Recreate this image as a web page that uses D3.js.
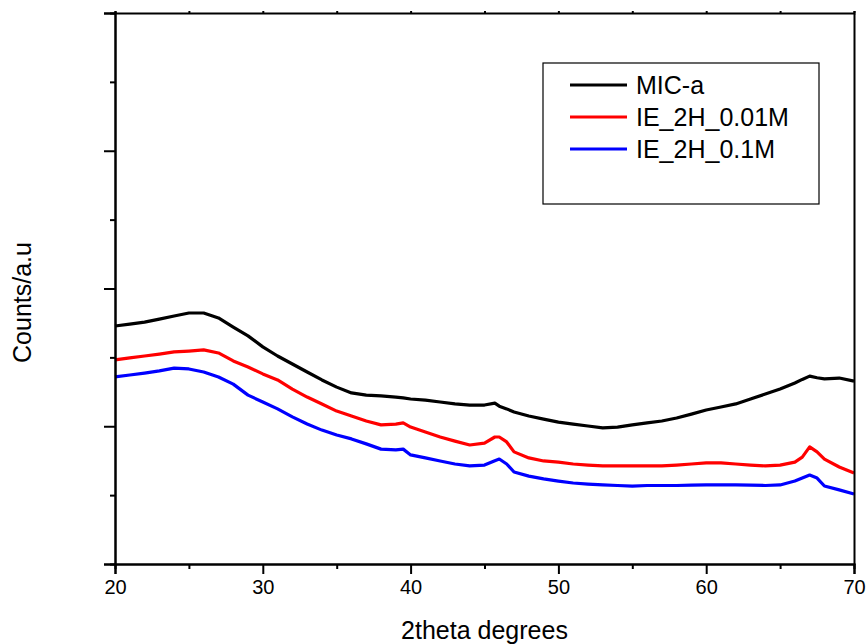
<!DOCTYPE html>
<html>
<head>
<meta charset="utf-8">
<script src="https://cdn.jsdelivr.net/npm/d3@7"></script>
<style>
  body { margin: 0; background: #fff; }
  text { font-family: "Liberation Sans", Arial, sans-serif; fill: #000; }
</style>
</head>
<body>
<script>
// 2theta positions (degrees) and counts
var angles = [20,21,22,23,24,25,26,27,28,29,30,31,32,33,34,35,36,37,38,39,39.5,40,41,42,43,44,45,45.7,46,46.5,47,48,49,50,51,52,53,54,55,56,57,58,59,60,61,62,63,64,65,66,66.5,67,67.5,68,69,70];

var micA = [864,871,878,889,900,911,911,893,860,828,788,755,726,697,668,642,621,613,610,606,603,599,595,588,581,577,577,584,573,563,552,537,526,515,508,501,494,497,505,512,519,530,544,559,570,581,599,617,635,657,670,682,676,672,675,664];
var ie001 = [741,748,755,762,770,773,777,766,737,715,690,668,635,606,581,555,537,519,505,508,512,497,479,461,446,432,439,461,461,443,407,385,374,370,363,359,356,356,356,356,356,359,363,367,367,363,359,356,359,370,388,425,407,381,352,330];
var ie01 = [679,686,693,701,711,708,697,679,653,613,588,563,534,508,486,468,454,436,417,414,417,396,385,374,363,356,359,375,381,363,334,319,309,301,294,290,287,285,283,285,285,285,286,287,287,287,286,285,287,301,312,323,312,283,269,254];

var seriesNames = ["MIC-a", "IE_2H_0.01M", "IE_2H_0.1M"];
var seriesColors = ["#000000", "#ff0000", "#0000ff"];
var seriesValues = [micA, ie001, ie01];

var xTicks = [20, 30, 40, 50, 60, 70];

var width = 867, height = 644;
var margin = {top: 13, right: 13, bottom: 80, left: 115};

var svg = d3.select("body").append("svg")
    .attr("width", width)
    .attr("height", height);

var x = d3.scaleLinear().domain([20, 70]).range([margin.left, width - margin.right]);
var y = d3.scaleLinear().domain([0, 2000]).range([height - margin.bottom, margin.top]);

// lines
var line = d3.line()
    .x(function(d) { return x(d[0]); })
    .y(function(d) { return y(d[1]); });

seriesValues.forEach(function(vals, i) {
  svg.append("path")
    .datum(angles.map(function(a, j) { return [a, vals[j]]; }))
    .attr("fill", "none")
    .attr("stroke", seriesColors[i])
    .attr("stroke-width", 3.2)
    .attr("stroke-linejoin", "round")
    .attr("d", line);
});

// bottom axis, major + minor ticks
var xMinor = d3.axisBottom(x).tickValues(d3.range(25, 70, 10)).tickSize(5).tickFormat("");
svg.append("g").attr("transform", "translate(0," + y(0) + ")").call(xMinor);
var xAxis = d3.axisBottom(x).tickValues(xTicks).tickSize(10).tickPadding(6).tickFormat(d3.format("d"));
var gx = svg.append("g").attr("transform", "translate(0," + y(0) + ")").call(xAxis);
gx.selectAll("text").style("font-size", "20px");

// left axis, no labels
var yMinor = d3.axisLeft(y).tickValues(d3.range(250, 2000, 500)).tickSize(5).tickFormat("");
svg.append("g").attr("transform", "translate(" + x(20) + ",0)").call(yMinor);
var yAxis = d3.axisLeft(y).tickValues(d3.range(0, 2001, 500)).tickSize(11).tickFormat("");
svg.append("g").attr("transform", "translate(" + x(20) + ",0)").call(yAxis);

// top and right frame
svg.append("g").attr("transform", "translate(0," + y(2000) + ")")
  .call(d3.axisTop(x).tickValues(d3.range(20, 71, 5)).tickSize(2).tickFormat(""));
svg.append("g").attr("transform", "translate(" + x(70) + ",0)")
  .call(d3.axisRight(y).tickValues([]).tickSize(0));

svg.selectAll(".domain").attr("stroke", "#000").attr("stroke-width", 2);
svg.selectAll(".tick line").attr("stroke", "#000").attr("stroke-width", 2);

// axis titles
svg.append("text")
  .attr("x", (x(20) + x(70)) / 2)
  .attr("y", 639)
  .attr("text-anchor", "middle")
  .style("font-size", "25px")
  .text("2theta degrees");

svg.append("text")
  .attr("transform", "translate(31," + (y(1000) + 14) + ") rotate(-90)")
  .attr("text-anchor", "middle")
  .style("font-size", "25px")
  .text("Counts/a.u");

// legend
var lg = svg.append("g").attr("transform", "translate(543,63)");
lg.append("rect")
  .attr("width", 276).attr("height", 141)
  .attr("fill", "#fff").attr("stroke", "#000").attr("stroke-width", 1.2);
seriesNames.forEach(function(name, i) {
  var ry = 22 + i * 32;
  lg.append("line")
    .attr("x1", 27).attr("x2", 84).attr("y1", ry).attr("y2", ry)
    .attr("stroke", seriesColors[i]).attr("stroke-width", 3);
  lg.append("text")
    .attr("x", 93).attr("y", ry + 9)
    .style("font-size", "25px")
    .text(name);
});
</script>
</body>
</html>
